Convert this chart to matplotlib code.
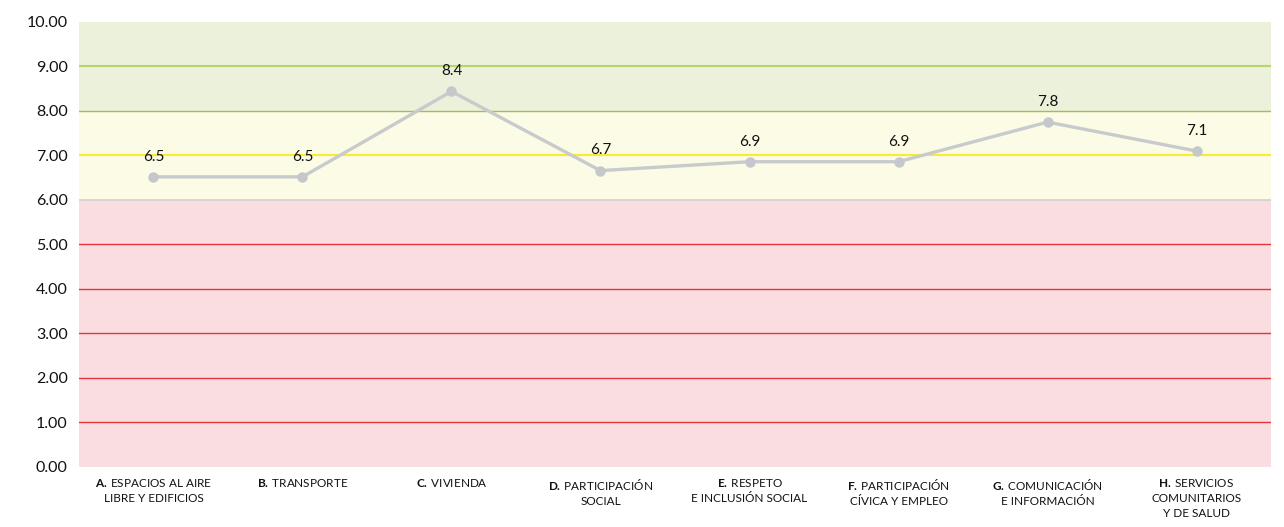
import matplotlib
matplotlib.use("Agg")
import matplotlib.pyplot as plt

# ====== fuentes ======
plt.rcParams['font.family'] = ['Lato', 'DejaVu Sans']
plt.rcParams['mathtext.fontset'] = 'custom'
plt.rcParams['mathtext.rm'] = 'Lato'
plt.rcParams['mathtext.bf'] = 'Lato:bold'

# ====== datos ======
categorias = [
    r"$\bf{A.}\,$ESPACIOS AL AIRE" + "\nLIBRE Y EDIFICIOS",
    r"$\bf{B.}\,$TRANSPORTE",
    r"$\bf{C.}\,$VIVIENDA",
    r"$\bf{D.}\,$PARTICIPACIÓN" + "\nSOCIAL",
    r"$\bf{E.}\,$RESPETO" + "\nE INCLUSIÓN SOCIAL",
    r"$\bf{F.}\,$PARTICIPACIÓN" + "\nCÍVICA Y EMPLEO",
    r"$\bf{G.}\,$COMUNICACIÓN" + "\nE INFORMACIÓN",
    r"$\bf{H.}\,$SERVICIOS" + "\nCOMUNITARIOS\nY DE SALUD",
]
valores = [6.52, 6.52, 8.44, 6.66, 6.86, 6.86, 7.75, 7.1]
etiquetas = ['6.5', '6.5', '8.4', '6.7', '6.9', '6.9', '7.8', '7.1']
y_ticks = [0, 1, 2, 3, 4, 5, 6, 7, 8, 9, 10]

# ====== figura ======
fig = plt.figure(figsize=(12.84, 5.27), dpi=100)
ax = fig.add_axes([0.0615, 0.1139, 0.9284, 0.8444])

x = list(range(len(categorias)))
ax.set_xlim(-0.5, len(categorias) - 0.5)
ax.set_ylim(0, 10)

# bandas de color
ax.axhspan(0, 6, color='#f9dde0', zorder=0, lw=0)
ax.axhspan(6, 8, color='#fcfbe6', zorder=0, lw=0)
ax.axhspan(8, 10, color='#ecf1db', zorder=0, lw=0)

# lineas horizontales
for yv in [1, 2, 3, 4, 5]:
    ax.axhline(yv, color='#e8333d', lw=1.0, zorder=1)
ax.axhline(6, color='#cfd2d3', lw=1.2, zorder=1)
ax.axhline(7, color='#f7ec32', lw=1.5, zorder=1)
ax.axhline(8, color='#a4c04c', lw=1.0, zorder=1)
ax.axhline(9, color='#b7d46a', lw=1.5, zorder=1)

# serie
ax.plot(x, valores, color='#c8cbcc', lw=2.4, marker='o', markersize=6.5,
        markerfacecolor='#c4c8cc', markeredgecolor='#c4c8cc', zorder=3)

for xi, yi, lab in zip(x, valores, etiquetas):
    ax.annotate(lab, (xi, yi), xytext=(0, 9.5), textcoords='offset points',
                ha='center', va='bottom', fontsize=11, color='#111111')

# ejes
ax.set_yticks(y_ticks)
ax.set_yticklabels([f"{v:.2f}" for v in y_ticks], fontsize=11.5, color='#111111')
ax.set_xticks(x)
ax.set_xticklabels(categorias, fontsize=8.5, color='#111111', linespacing=1.45,
                   va='top', ha='center')
ax.tick_params(axis='both', length=0)
ax.tick_params(axis='y', pad=8)
ax.tick_params(axis='x', pad=7)
for s in ax.spines.values():
    s.set_visible(False)

plt.savefig('out.png', dpi=100)
